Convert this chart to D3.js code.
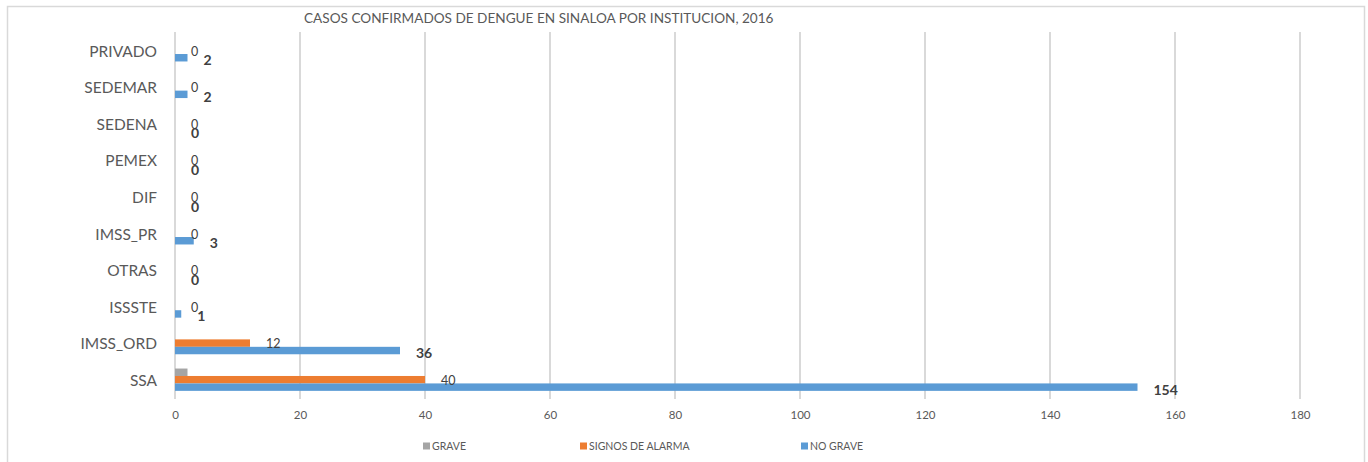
<!DOCTYPE html>
<html lang="es">
<head>
    <meta charset="utf-8">
    <title>Casos confirmados de dengue en Sinaloa por institución, 2016</title>
    <style>
        html,body{
            margin:0;
            background:#fff;
            overflow:hidden;
        }
        svg text{
            font-family:Lato,"Open Sans",sans-serif;
        }
    </style>
</head>
<body>
    <div id="chart"></div>

    <script src="https://cdn.jsdelivr.net/npm/d3@7"></script>
    <script>
    // data (top to bottom)
    const categories = ["PRIVADO","SEDEMAR","SEDENA","PEMEX","DIF","IMSS_PR","OTRAS","ISSSTE","IMSS_ORD","SSA"];
    const grave     = [0,0,0,0,0,0,0,0,0,2];
    const signos    = [0,0,0,0,0,0,0,0,12,40];
    const noGrave   = [2,2,0,0,0,3,0,1,36,154];
    const seriesNames = ["GRAVE","SIGNOS DE ALARMA","NO GRAVE"];
    const xTicks = [0,20,40,60,80,100,120,140,160,180];
    const title = "CASOS CONFIRMADOS DE DENGUE EN SINALOA POR INSTITUCION, 2016";

    const width = 1368, height = 462;
    const colors = ["#a5a5a5","#ed7d31","#5b9bd5"];
    const values = [grave, signos, noGrave];

    const svg = d3.select("#chart").append("svg")
        .attr("width", width)
        .attr("height", height);

    // outer chart frame
    svg.append("rect")
        .attr("x", 7.5).attr("y", 6.5)
        .attr("width", 1357).attr("height", 470)
        .attr("fill", "none")
        .attr("stroke", "#d9d9d9")
        .attr("stroke-width", 1.5);

    const x = d3.scaleLinear().domain([0,180]).range([175,1300]);
    const y = d3.scaleBand().domain(categories).range([32,398])
        .paddingInner(0.39).paddingOuter(0.195);
    const ySub = d3.scaleBand().domain([0,1,2]).range([0, y.bandwidth()]);

    // gridlines
    svg.append("g")
        .selectAll("line")
        .data(xTicks.slice(1))
        .enter().append("line")
        .attr("x1", d => x(d)).attr("x2", d => x(d))
        .attr("y1", 32).attr("y2", 399)
        .attr("stroke", "#d9d9d9")
        .attr("stroke-width", 2);

    // value axis labels
    const xAxis = d3.axisBottom(x).tickValues(xTicks).tickSize(0).tickPadding(0);
    const gx = svg.append("g").attr("transform", "translate(0,411)").call(xAxis);
    gx.select(".domain").remove();
    gx.selectAll("text")
        .attr("fill", "#595959")
        .style("font-size", "11.5px");

    // category axis
    const yAxis = d3.axisLeft(y).tickSize(0).tickPadding(18);
    const gy = svg.append("g").attr("transform", "translate(175,0)").call(yAxis);
    gy.select(".domain").remove();
    gy.selectAll("text")
        .attr("fill", "#595959")
        .attr("dy", "0.4em")
        .style("font-size", "15.5px");

    svg.append("line")
        .attr("x1", 175).attr("x2", 175)
        .attr("y1", 32).attr("y2", 399)
        .attr("stroke", "#d9d9d9")
        .attr("stroke-width", 2);

    // bars
    values.forEach((vals, s) => {
        svg.append("g")
            .selectAll("rect")
            .data(vals)
            .enter().append("rect")
            .attr("x", x(0))
            .attr("y", (d, i) => y(categories[i]) + ySub(s))
            .attr("width", d => x(d) - x(0))
            .attr("height", ySub.bandwidth())
            .attr("fill", colors[s]);
    });

    // data labels: orange regular, blue bold, grey none
    svg.append("g")
        .selectAll("text")
        .data(signos)
        .enter().append("text")
        .attr("x", d => x(d) + 16)
        .attr("y", (d, i) => y(categories[i]) + ySub(1) + ySub.bandwidth() / 2 + 1)
        .attr("dy", "0.35em")
        .attr("fill", "#404040")
        .style("font-size", "12.5px")
        .text(d => d);

    svg.append("g")
        .selectAll("text")
        .data(noGrave)
        .enter().append("text")
        .attr("x", d => x(d) + 16)
        .attr("y", (d, i) => y(categories[i]) + ySub(2) + ySub.bandwidth() / 2 + 2.5)
        .attr("dy", "0.35em")
        .attr("fill", "#404040")
        .style("font-size", "14px")
        .style("font-weight", "bold")
        .text(d => d);

    // title
    svg.append("text")
        .attr("x", 304).attr("y", 18)
        .attr("dy", "0.35em")
        .attr("fill", "#595959")
        .style("font-size", "13.6px")
        .text(title);

    // legend
    const legendX = [423, 580, 801];
    const legend = svg.append("g")
        .selectAll("g")
        .data(seriesNames)
        .enter().append("g")
        .attr("transform", (d, i) => `translate(${legendX[i]},446)`);
    legend.append("rect")
        .attr("x", 0).attr("y", -3.5)
        .attr("width", 7).attr("height", 7)
        .attr("fill", (d, i) => colors[i]);
    legend.append("text")
        .attr("x", 9).attr("y", 0)
        .attr("dy", "0.35em")
        .attr("fill", "#595959")
        .style("font-size", "10.5px")
        .text(d => d);
    </script>
</body>
</html>
